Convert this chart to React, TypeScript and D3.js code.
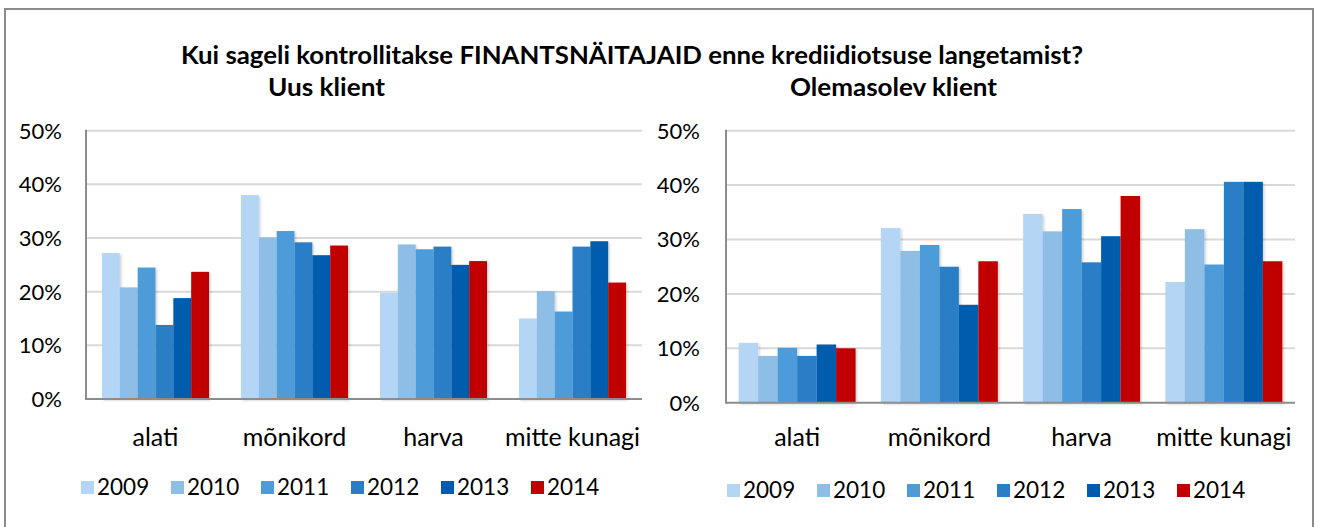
import React from "react";
import * as d3 from "d3";

const categories = ["alati", "mõnikord", "harva", "mitte kunagi"];
const years = ["2009", "2010", "2011", "2012", "2013", "2014"];
const colors = ["#b4d5f3", "#8ebde6", "#4e9bd8", "#2b7ec6", "#035bad", "#c00000"];

// values in percent, per year, per category
const newClient2009 = [27.2, 38.0, 19.8, 15.0];
const newClient2010 = [20.8, 30.1, 28.8, 20.1];
const newClient2011 = [24.5, 31.3, 27.9, 16.3];
const newClient2012 = [13.8, 29.2, 28.4, 28.4];
const newClient2013 = [18.8, 26.8, 25.0, 29.4];
const newClient2014 = [23.7, 28.6, 25.7, 21.7];

const existing2009 = [11.0, 32.1, 34.7, 22.2];
const existing2010 = [8.6, 27.9, 31.5, 31.9];
const existing2011 = [10.1, 29.0, 35.6, 25.4];
const existing2012 = [8.6, 25.0, 25.8, 40.6];
const existing2013 = [10.7, 18.0, 30.6, 40.6];
const existing2014 = [10.0, 26.0, 38.0, 26.0];

const yTicks = [0, 10, 20, 30, 40, 50];

const newClient = [newClient2009, newClient2010, newClient2011, newClient2012, newClient2013, newClient2014];
const existing = [existing2009, existing2010, existing2011, existing2012, existing2013, existing2014];

const FONT = "Lato, 'Noto Sans', sans-serif";

type PanelProps = {
  series: number[][];
  x0: number;
  x1: number;
  yTop: number;
  yBottom: number;
  padding: number;
  labelX: number;
  catLabelY: number;
  legendX: number;
  legendY: number;
};

function Panel({ series, x0, x1, yTop, yBottom, padding, labelX, catLabelY, legendX, legendY }: PanelProps) {
  const xBand = d3.scaleBand<string>().domain(categories).range([x0, x1]).paddingInner(padding).paddingOuter(padding / 2);
  const xInner = d3.scaleBand<string>().domain(years).range([0, xBand.bandwidth()]);
  const y = d3.scaleLinear().domain([0, 50]).range([yBottom, yTop]);
  return (
    <g>
      {yTicks.map((t) => (
        <g key={t}>
          {t > 0 && <line x1={x0} x2={x1} y1={y(t)} y2={y(t)} stroke="#d9d9d9" strokeWidth={2} />}
          <text x={labelX} y={y(t)} dy="0.36em" textAnchor="end" fontSize={22} fontFamily={FONT} fill="#000">
            {t + "%"}
          </text>
        </g>
      ))}
      {years.map((yr, i) =>
        categories.map((c, j) => {
          const v = series[i][j];
          const bx = (xBand(c) as number) + (xInner(yr) as number);
          return (
            <rect
              key={yr + c}
              x={bx}
              y={y(v)}
              width={xInner.bandwidth()}
              height={y(0) - y(v)}
              fill={colors[i]}
              filter="url(#shadow)"
            />
          );
        })
      )}
      <line x1={x0} x2={x0} y1={yTop - 1} y2={yBottom + 1} stroke="#8c8c8c" strokeWidth={2} />
      <line x1={x0} x2={x1} y1={yBottom} y2={yBottom} stroke="#8c8c8c" strokeWidth={2} />
      {categories.map((c) => (
        <text
          key={c}
          x={(xBand(c) as number) + xBand.bandwidth() / 2}
          y={catLabelY}
          textAnchor="middle"
          fontSize={25}
          fontFamily={FONT}
          fill="#000"
        >
          {c}
        </text>
      ))}
      {years.map((yr, i) => (
        <g key={yr} transform={`translate(${legendX + i * 90},${legendY})`}>
          <rect x={0} y={-14} width={13} height={13} fill={colors[i]} />
          <text x={16} y={0} fontSize={22.5} fontFamily={FONT} fill="#000">
            {yr}
          </text>
        </g>
      ))}
    </g>
  );
}

export default function App() {
  return (
    <svg
      width={1320}
      height={527}
      style={{ position: "absolute", left: 0, top: 0, background: "#fff" }}
    >
      <defs>
        <filter id="shadow" x="-20%" y="-5%" width="150%" height="115%">
          <feDropShadow dx={1.5} dy={1.5} stdDeviation={1.2} floodColor="#000" floodOpacity={0.18} />
        </filter>
      </defs>
      <rect x={0} y={0} width={1320} height={527} fill="#fff" />
      <rect x={5} y={9} width={1308} height={530} fill="none" stroke="#8c8c8c" strokeWidth={2} />
      <text
        x={632}
        y={64}
        textAnchor="middle"
        fontSize={24}
        fontWeight="bold"
        fontFamily={FONT}
        fill="#000"
        textLength={902}
        lengthAdjust="spacingAndGlyphs"
      >
        Kui sageli kontrollitakse FINANTSNÄITAJAID enne krediidiotsuse langetamist?
      </text>
      <text
        x={326.5}
        y={96}
        textAnchor="middle"
        fontSize={24}
        fontWeight="bold"
        fontFamily={FONT}
        fill="#000"
        textLength={117}
        lengthAdjust="spacingAndGlyphs"
      >
        Uus klient
      </text>
      <text
        x={893.5}
        y={96}
        textAnchor="middle"
        fontSize={24}
        fontWeight="bold"
        fontFamily={FONT}
        fill="#000"
        textLength={207}
        lengthAdjust="spacingAndGlyphs"
      >
        Olemasolev klient
      </text>
      <Panel
        series={newClient}
        x0={86}
        x1={642}
        yTop={130.7}
        yBottom={399}
        padding={0.23}
        labelX={62}
        catLabelY={446}
        legendX={81}
        legendY={495}
      />
      <Panel
        series={existing}
        x0={726}
        x1={1295}
        yTop={130.7}
        yBottom={402.7}
        padding={0.178}
        labelX={700}
        catLabelY={446}
        legendX={727}
        legendY={498}
      />
    </svg>
  );
}
